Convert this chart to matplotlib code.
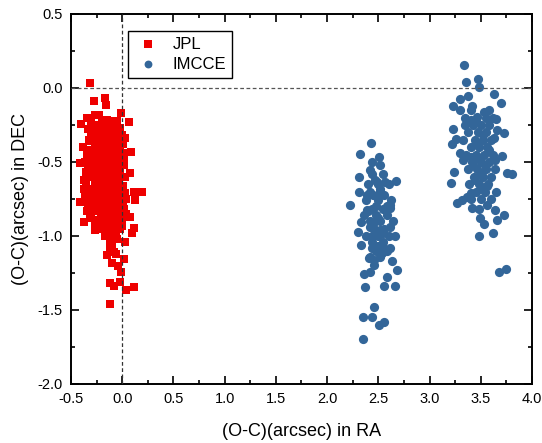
import matplotlib
matplotlib.use("Agg")
import matplotlib.pyplot as plt
from matplotlib.ticker import MultipleLocator, FormatStrFormatter

plt.rcParams['font.family'] = ['Liberation Sans', 'DejaVu Sans']
plt.rcParams['axes.unicode_minus'] = False

# JPL residuals (RA, DEC) in arcsec
jpl_ra = [-0.311, -0.279, -0.165, -0.155, -0.012, 0.069, -0.402, -0.344, -0.338, -0.263,
          -0.230, -0.148, -0.230, -0.019, 0.023, -0.383, -0.344, -0.416, 0.086, 0.014,
          0.079, 0.193, 0.111, 0.128, -0.377, -0.416, -0.370, 0.079, 0.111, 0.096,
          -0.263, 0.030, -0.116, -0.100, -0.148, -0.084, 0.014, -0.012, -0.116, -0.084,
          -0.025, 0.040, 0.118, -0.116,
          -0.30, -0.20, -0.12, -0.05,
          -0.27, -0.18, -0.10, -0.03,
          -0.25, -0.15, -0.08, 0.00,
          -0.30, -0.21, -0.13, -0.05,
          -0.27, -0.18, -0.10, -0.02,
          -0.24, -0.15, -0.07,
          -0.31, -0.20, -0.11, -0.03,
          -0.27, -0.17, -0.09,
          -0.33, -0.23, -0.14, -0.05,
          -0.29, -0.19, -0.11, -0.02,
          -0.25, -0.15, -0.07,
          -0.35, -0.21, -0.12, -0.03,
          -0.28, -0.18, -0.09,
          -0.24, -0.14, -0.05, 0.03,
          -0.31, -0.20, -0.11,
          -0.27, -0.16, -0.07, 0.01,
          -0.22, -0.12, -0.03,
          -0.30, -0.18, -0.09, 0.04,
          -0.24, -0.14, -0.05,
          -0.19, -0.10, 0.00,
          -0.15, -0.06,
          -0.24, -0.15, -0.08,
          -0.30, -0.20, -0.12, -0.04,
          -0.27, -0.18, -0.10,
          -0.24, -0.15, -0.07,
          -0.29, -0.21, -0.12, -0.04,
          -0.26, -0.17, -0.09,
          -0.23, -0.14, -0.06,
          -0.29, -0.20, -0.12, -0.02,
          -0.26, -0.17, -0.08,
          -0.33, -0.22, -0.13, -0.04,
          -0.27, -0.17, -0.09,
          -0.24, -0.15, -0.06,
          -0.30, -0.20, -0.11,
          -0.27, -0.17, -0.08,
          -0.23, -0.13, -0.04,
          -0.29, -0.19, -0.09,
          -0.25, -0.15, -0.06,
          -0.21, -0.11, -0.02,
          -0.27, -0.16, -0.07,
          -0.21, -0.12, -0.03,
          -0.17, -0.08,
          -0.36, -0.35, -0.37, -0.34, -0.36, -0.33, -0.34, -0.31,
          0.02, 0.03, 0.01, 0.04, 0.02, 0.00, -0.02,
          -0.32, -0.34, 0.01, 0.02,
          -0.10, -0.05, -0.12, -0.06, -0.10, -0.04]
jpl_dec = [0.032, -0.086, -0.066, -0.115, -0.167, -0.228, -0.243, -0.205, -0.279, -0.182,
           -0.182, -0.216, -0.250, -0.272, -0.336, -0.400, -0.453, -0.505, -0.435, -0.475,
           -0.577, -0.700, -0.700, -0.760, -0.685, -0.768, -0.907, -0.870, -0.948, -0.982,
           -0.960, -1.039, -1.027, -1.060, -1.128, -1.106, -1.155, -1.245, -1.315, -1.338,
           -1.309, -1.365, -1.347, -1.460,
           -0.22, -0.22, -0.22, -0.22,
           -0.28, -0.28, -0.28, -0.28,
           -0.32, -0.32, -0.32, -0.32,
           -0.36, -0.36, -0.36, -0.36,
           -0.40, -0.40, -0.40, -0.40,
           -0.44, -0.44, -0.44,
           -0.47, -0.47, -0.47, -0.47,
           -0.51, -0.51, -0.51,
           -0.54, -0.54, -0.54, -0.54,
           -0.58, -0.58, -0.58, -0.58,
           -0.61, -0.61, -0.61,
           -0.64, -0.64, -0.64, -0.64,
           -0.68, -0.68, -0.68,
           -0.71, -0.71, -0.71, -0.71,
           -0.74, -0.74, -0.74,
           -0.78, -0.78, -0.78, -0.78,
           -0.81, -0.81, -0.81,
           -0.85, -0.85, -0.85, -0.85,
           -0.89, -0.89, -0.89,
           -0.93, -0.93, -0.93,
           -0.97, -0.97,
           -0.25, -0.25, -0.25,
           -0.30, -0.30, -0.30, -0.30,
           -0.34, -0.34, -0.34,
           -0.38, -0.38, -0.38,
           -0.42, -0.42, -0.42, -0.42,
           -0.46, -0.46, -0.46,
           -0.49, -0.49, -0.49,
           -0.53, -0.53, -0.53, -0.53,
           -0.56, -0.56, -0.56,
           -0.60, -0.60, -0.60, -0.60,
           -0.63, -0.63, -0.63,
           -0.66, -0.66, -0.66,
           -0.70, -0.70, -0.70,
           -0.73, -0.73, -0.73,
           -0.76, -0.76, -0.76,
           -0.80, -0.80, -0.80,
           -0.83, -0.83, -0.83,
           -0.87, -0.87, -0.87,
           -0.91, -0.91, -0.91,
           -0.95, -0.95, -0.95,
           -1.00, -1.00,
           -0.50, -0.57, -0.62, -0.68, -0.72, -0.78, -0.83, -0.88,
           -0.52, -0.60, -0.66, -0.75, -0.82, -0.88, -0.95,
           -0.35, -0.42, -0.38, -0.44,
           -1.03, -1.02, -1.08, -1.12, -1.18, -1.20]

# IMCCE residuals (RA, DEC) in arcsec
imcce_ra = [2.430, 2.325, 2.504, 2.440, 2.520, 2.423, 2.309, 2.488, 2.569, 2.677,
            2.309, 2.391, 2.520, 2.228, 2.391, 2.618, 2.618, 2.335, 2.303, 2.423,
            2.520, 2.618, 2.667, 2.332, 2.440, 2.537, 2.618, 2.406, 2.537, 2.635,
            2.455, 2.684, 2.357, 2.423, 2.586, 2.374, 2.553, 2.667, 2.455, 2.348,
            2.440, 2.504, 2.553, 2.348,
            2.44, 2.55, 2.40, 2.50, 2.60, 2.45, 2.56, 2.38, 2.50, 2.62,
            2.44, 2.55, 2.36, 2.48, 2.58, 2.42, 2.52, 2.64, 2.46, 2.56,
            2.38, 2.50, 2.60, 2.44, 2.55, 2.48, 2.58, 2.42, 2.52,
            2.47, 2.52, 2.42, 2.48, 2.58, 2.40, 2.50, 2.45, 2.55, 2.44, 2.50, 2.46,
            3.334, 3.360, 3.471, 3.487, 3.295, 3.377, 3.227, 3.302, 3.416, 3.627,
            3.702, 3.578, 3.529, 3.653, 3.227, 3.351, 3.400, 3.465, 3.725, 3.660,
            3.221, 3.263, 3.627, 3.302, 3.328, 3.400, 3.709, 3.643, 3.236, 3.211,
            3.752, 3.807, 3.367, 3.400, 3.270, 3.318, 3.416, 3.480, 3.562, 3.643,
            3.653, 3.725, 3.497, 3.529, 3.660, 3.480, 3.621, 3.676, 3.748,
            3.40, 3.35, 3.55, 3.62, 3.42, 3.50, 3.58, 3.38, 3.47, 3.55,
            3.33, 3.44, 3.52, 3.60, 3.40, 3.48, 3.56, 3.36, 3.45, 3.53, 3.62,
            3.41, 3.50, 3.58, 3.38, 3.46, 3.55, 3.64, 3.43, 3.52, 3.60,
            3.39, 3.48, 3.57, 3.45, 3.54, 3.50, 3.60,
            3.45, 3.52, 3.45, 3.58, 3.48, 3.42, 3.54, 3.50, 3.44, 3.56, 3.50, 3.40]
imcce_dec = [-0.374, -0.448, -0.468, -0.502, -0.520, -0.554, -0.599, -0.633, -0.633, -0.626,
             -0.700, -0.723, -0.700, -0.790, -0.824, -0.790, -0.813, -0.903, -0.971, -0.937,
             -0.960, -0.937, -1.000, -1.060, -1.083, -1.060, -1.083, -1.151, -1.117, -1.169,
             -1.196, -1.230, -1.257, -1.241, -1.275, -1.342, -1.336, -1.336, -1.478, -1.545,
             -1.545, -1.601, -1.579, -1.696,
             -0.58, -0.58, -0.65, -0.65, -0.65, -0.72, -0.72, -0.76, -0.76, -0.76,
             -0.82, -0.82, -0.86, -0.86, -0.86, -0.90, -0.90, -0.90, -0.95, -0.95,
             -1.00, -1.00, -1.00, -1.04, -1.04, -1.10, -1.10, -1.14, -1.14,
             -0.62, -0.68, -0.70, -0.80, -0.80, -0.83, -0.88, -0.92, -0.98, -1.00, -1.07, -1.16,
             0.157, 0.038, 0.061, 0.005, -0.076, -0.054, -0.122, -0.149, -0.122, -0.043,
             -0.103, -0.149, -0.160, -0.210, -0.277, -0.250, -0.216, -0.194, -0.306, -0.284,
             -0.380, -0.347, -0.340, -0.441, -0.486, -0.464, -0.460, -0.487, -0.566, -0.644,
             -0.572, -0.581, -0.734, -0.711, -0.779, -0.757, -0.813, -0.820, -0.790, -0.824,
             -0.700, -0.858, -0.880, -0.919, -0.892, -1.000, -0.982, -1.245, -1.223,
             -0.15, -0.20, -0.20, -0.20, -0.25, -0.25, -0.25, -0.30, -0.30, -0.30,
             -0.35, -0.35, -0.35, -0.35, -0.40, -0.40, -0.40, -0.45, -0.45, -0.45, -0.45,
             -0.50, -0.50, -0.50, -0.55, -0.55, -0.55, -0.55, -0.60, -0.60, -0.60,
             -0.65, -0.65, -0.65, -0.70, -0.70, -0.75, -0.75,
             -0.22, -0.32, -0.38, -0.42, -0.47, -0.52, -0.52, -0.58, -0.62, -0.66, -0.68, -0.75]

fig = plt.figure(figsize=(5.42, 4.43), dpi=100)
ax = fig.add_axes([0.131, 0.1332, 0.8505, 0.8352])

ax.scatter(jpl_ra, jpl_dec, marker='s', s=40, color='#EE0000', linewidths=0,
           label='JPL', zorder=2)
ax.scatter(imcce_ra, imcce_dec, marker='o', s=44, color='#336699', linewidths=0,
           label='IMCCE', zorder=2)

ax.axvline(0, color='#333333', lw=0.9, dashes=(3, 2), zorder=3)
ax.axhline(0, color='#555555', lw=0.9, dashes=(3, 2), zorder=3)

ax.set_xlim(-0.5, 4.0)
ax.set_ylim(-2.0, 0.5)
ax.xaxis.set_major_locator(MultipleLocator(0.5))
ax.xaxis.set_minor_locator(MultipleLocator(0.25))
ax.yaxis.set_major_locator(MultipleLocator(0.5))
ax.yaxis.set_minor_locator(MultipleLocator(0.25))
ax.xaxis.set_major_formatter(FormatStrFormatter('%.1f'))
ax.yaxis.set_major_formatter(FormatStrFormatter('%.1f'))
ax.tick_params(which='both', direction='in', top=True, right=True, width=1.2,
               labelsize=10.5, colors='black')
ax.tick_params(which='major', length=5.5, pad=6)
ax.tick_params(which='minor', length=3)
for sp in ax.spines.values():
    sp.set_linewidth(1.4)

ax.set_xlabel('(O-C)(arcsec) in RA', fontsize=13, labelpad=12)
ax.set_ylabel('(O-C)(arcsec) in DEC', fontsize=13, labelpad=6)

leg = ax.legend(loc='upper left', bbox_to_anchor=(0.124, 0.954), fontsize=12,
                frameon=True, fancybox=False, edgecolor='black', framealpha=1,
                borderpad=0.35, handletextpad=0.6, labelspacing=0.3,
                handlelength=1.7, borderaxespad=0, markerscale=0.85)
leg.get_frame().set_linewidth(1.0)

fig.savefig('out.png', dpi=100)
